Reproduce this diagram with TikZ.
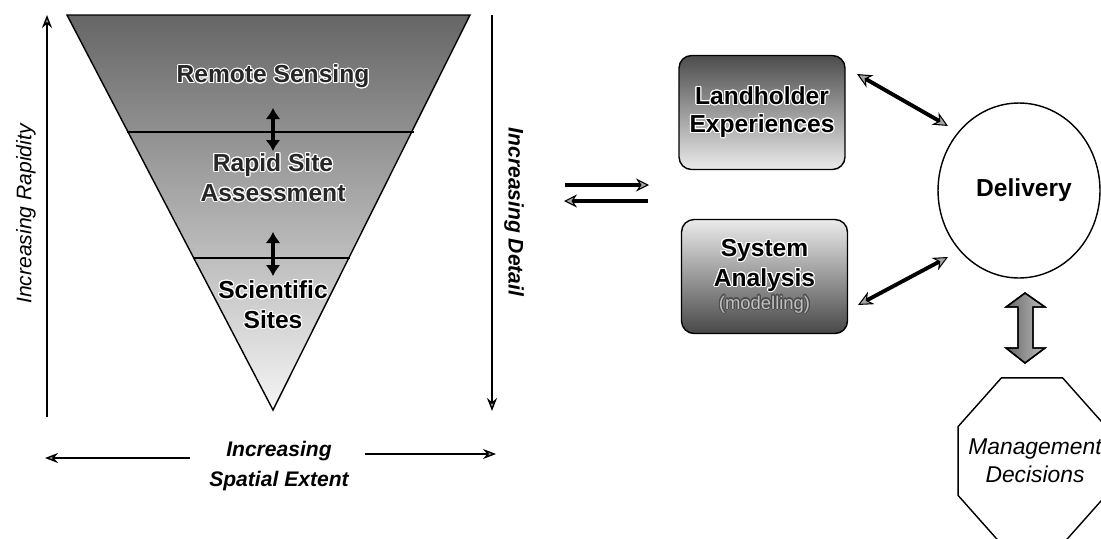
\documentclass[tikz,border=0pt]{standalone}
\usepackage{fontspec}
\setmainfont{Liberation Sans}
\usepackage{contour}
\contourlength{0.6pt}
\usetikzlibrary{arrows.meta,shapes.geometric}
\newcommand{\hw}[1]{\contour{white}{#1}}
\begin{document}
\begin{tikzpicture}[x=0.02cm,y=-0.02cm,
  tritext/.style={font=\bfseries\fontsize{14}{17}\selectfont, align=center, text=black!85},
  boxnode/.style={draw=black, line width=0.8pt, rounded corners=0.25cm, minimum width=3.32cm, minimum height=2.28cm, align=center, font=\bfseries\fontsize{14}{17}\selectfont, inner sep=0pt},
  axislabel/.style={font=\bfseries\itshape\fontsize{12}{17.5}\selectfont, align=center},
  axisarrow/.style={draw=black, line width=0.8pt, -{Stealth[length=0.26cm,width=0.2cm,fill=black!35]}},
  innerarrow/.style={draw=black, line width=2.6pt, {Latex[length=0.22cm,width=0.3cm]}-{Latex[length=0.22cm,width=0.3cm]}},
  midarrow/.style={draw=black, line width=1.8pt, -{Stealth[length=0.26cm,width=0.26cm,fill=black!35,line width=0.6pt]}},
  diagarrow/.style={draw=black, line width=2.2pt, {Stealth[length=0.3cm,width=0.28cm,fill=black!35,line width=0.6pt]}-{Stealth[length=0.3cm,width=0.28cm,fill=black!35,line width=0.6pt]}}
]
\useasboundingbox (0,0) rectangle (1101,538);
\clip (0,0) rectangle (1101,538);

% funnel
\shade[top color=black!60, middle color=black!40, bottom color=black!4]
  (67,15) -- (470,15) -- (273,410) -- cycle;
\draw[line width=0.8pt] (67,15) -- (470,15) -- (273,410) -- cycle;
\draw[line width=0.8pt] (127,132) -- (414,132);
\draw[line width=0.8pt] (193,258) -- (350,258);

\node[tritext] (rs) at (273,77) {\hw{Remote Sensing}};
\node[tritext] (ra) at (273,178) {\hw{Rapid Site}\\\hw{Assessment}};
\node[tritext, text=black] (ss) at (273,305) {\hw{Scientific}\\\hw{Sites}};

\coordinate (a1s) at (273,108);
\coordinate (a1e) at (273,151);
\coordinate (a2s) at (273,232);
\coordinate (a2e) at (273,276);
\draw[innerarrow] (a1s) -- (a1e);
\draw[innerarrow] (a2s) -- (a2e);

% axes
\coordinate (lvb) at (47,417);
\coordinate (lvt) at (47,15);
\coordinate (rvt) at (492,15);
\coordinate (rvb) at (492,411);
\draw[axisarrow] (lvb) -- (lvt);
\draw[axisarrow] (rvt) -- (rvb);
\node[font=\itshape\fontsize{12}{14}\selectfont, rotate=90] (rap) at (26,214) {Increasing Rapidity};
\node[axislabel, rotate=-90] (det) at (514,212) {Increasing Detail};

\node[axislabel] (spat) at (279,466) {Increasing\\Spatial Extent};
\coordinate (hl) at (45,458);
\coordinate (hr) at (496,454);
\coordinate (hls) at (190,458);
\coordinate (hrs) at (365,454);
\draw[axisarrow] (hls) -- (hl);
\draw[axisarrow] (hrs) -- (hr);

% middle arrows
\coordinate (m1s) at (565,185);
\coordinate (m1e) at (649,185);
\coordinate (m2s) at (648,201);
\coordinate (m2e) at (564,201);
\draw[midarrow] (m1s) -- (m1e);
\draw[midarrow] (m2s) -- (m2e);

% boxes
\node[boxnode, top color=black!70, bottom color=black!8] (lh) at (762,112.5)
  {\hw{Landholder}\\[-1pt]\hw{Experiences}};
\node[boxnode, top color=black!8, bottom color=black!72] (sa) at (764.5,276.5)
  {\hw{System}\\[0pt]\hw{Analysis}\\[-4pt]{\mdseries\fontsize{10.5}{12}\selectfont\textcolor{black!25}{\contour{black!70}{(modelling)}}}};

% delivery
\node[draw, ellipse, line width=0.8pt, minimum width=3.24cm, minimum height=3.5cm, inner sep=0pt,
  font=\bfseries\fontsize{14}{17}\selectfont] (dl) at (1019,190.5) {\hspace{0.2cm}Delivery};

\coordinate (d1a) at (857,74);
\coordinate (d1b) at (948,126);
\coordinate (d2a) at (858,305);
\coordinate (d2b) at (948,257);
\draw[diagarrow] (d1a) -- (d1b);
\draw[diagarrow] (d2a) -- (d2b);

% fat double arrow
\shade[left color=black!60, right color=black!25, draw=black, line width=0.8pt]
  (1025,293) -- (1045,307) -- (1033,307) -- (1033,348) -- (1045,348) -- (1025,363)
  -- (1006,348) -- (1018,348) -- (1018,307) -- (1006,307) -- cycle;
\draw[line width=0.8pt]
  (1025,293) -- (1045,307) -- (1033,307) -- (1033,348) -- (1045,348) -- (1025,363)
  -- (1006,348) -- (1018,348) -- (1018,307) -- (1006,307) -- cycle;

% management
\node[align=center, font=\itshape\fontsize{13}{16}\selectfont, inner sep=0pt] (md) at (1035,461)
  {Management\\Decisions};
\draw[line width=0.8pt, shift={(1032,461)}]
  (22.5:80 and 90) -- (67.5:80 and 90) -- (112.5:80 and 90) -- (157.5:80 and 90)
  -- (202.5:80 and 90) -- (247.5:80 and 90) -- (292.5:80 and 90) -- (337.5:80 and 90) -- cycle;
\end{tikzpicture}
\end{document}
